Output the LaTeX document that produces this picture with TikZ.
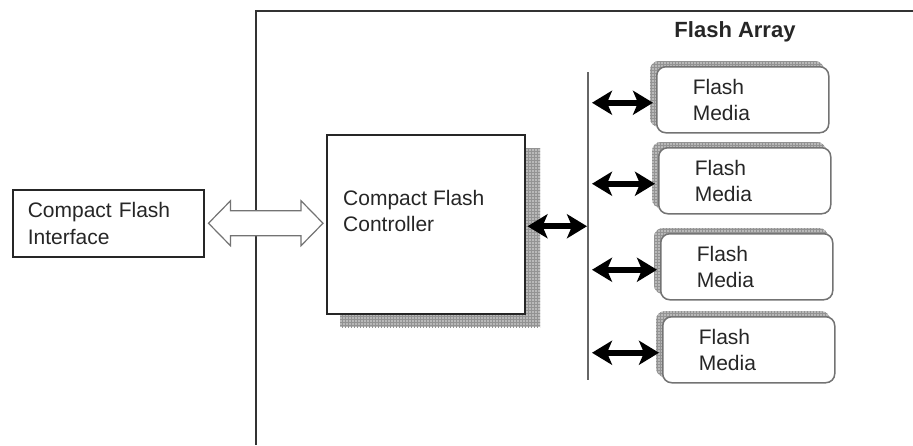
\documentclass[tikz,border=0pt]{standalone}
\usepackage{fontspec}
\setmainfont{Liberation Sans}
\usetikzlibrary{arrows.meta,calc,patterns}
\begin{document}
\begin{tikzpicture}[x=1pt,y=-1pt,
  txt/.style={font=\fontsize{21}{26.5}\selectfont, text=black!85},
  box/.style={draw=black!85, line width=1.5pt, fill=white},
  mediabox/.style={draw=black!55, line width=1.5pt, fill=white, rounded corners=9pt,
    minimum height=66pt, text width=100pt, inner xsep=36pt, inner ysep=0pt, align=left,
    anchor=north west, txt},
  shadowfill/.style={fill=gray!55},
  shadowpat/.style={pattern=grid, pattern color=gray!85},
  bigarrow/.style={line width=6pt, {Stealth[length=20pt,width=24pt,inset=5pt]}-{Stealth[length=20pt,width=24pt,inset=5pt]}},
  hollow/.style={draw=black!55, line width=1.2pt, fill=white, line join=miter}
]
\useasboundingbox (0,0) rectangle (913,445);
% outer frame
\coordinate (frtr) at (913,11);
\coordinate (frtl) at (256,11);
\coordinate (frbl) at (256,445);
\draw[black!80, line width=1.5pt] (frtr) -- (frtl) -- (frbl);

% interface
\node[box, txt, anchor=north west, minimum width=191pt, minimum height=67pt,
      text width=161pt, inner xsep=15pt, inner ysep=0pt, align=left] (iface) at (12,189)
      {Compact Flash\\Interface};

% controller with shadow
\path[shadowfill] (340,148) rectangle (540,327);
\path[shadowpat] (340,148) rectangle (540,327);
\node[box, anchor=north west, minimum width=198pt, minimum height=179pt, inner sep=0pt] (ctrl) at (326,134) {};
\node[txt, anchor=west, align=left, inner sep=0pt] (ctrltxt) at (343,211) {Compact Flash\\Controller};

% hollow double arrow
\coordinate (hl) at ($(iface.east)+(4,0)$);
\coordinate (hr) at ($(hl -| ctrl.west)+(-3,0)$);
\draw[hollow] (hl) -- ++(22,-22.5) -- ++(0,10) -- ($(hr)+(-22,-12.5)$) -- ++(0,-10) -- (hr)
  -- ++(-22,22.5) -- ++(0,-10) -- ($(hl)+(22,12.5)$) -- ++(0,10) -- cycle;

% title
\node[font=\bfseries\fontsize{22}{24}\selectfont, text=black!85] (title) at (735,32) {Flash Array};

% bus
\coordinate (bustop) at (588,72);
\coordinate (busbot) at (588,380);
\draw[black!60, line width=1.5pt] (bustop) -- (busbot);

% media boxes
\foreach \n/\x/\y in {m1/656/66, m2/658/147, m3/660/233, m4/662/316}{
  \path[shadowfill, rounded corners=9pt] (\x-6,\y-5) rectangle (\x+168,\y+61);
  \path[shadowpat, rounded corners=9pt] (\x-6,\y-5) rectangle (\x+168,\y+61);
  \node[mediabox] (\n) at (\x,\y) {Flash\\Media};
}

% arrows
\draw[bigarrow] ($(ctrl.east)+(2,2)$) -- ($(ctrl.east -| bustop)+(-1,2)$);
\foreach \n in {m1,m2,m3,m4}{
  \draw[bigarrow] ($(\n.west -| bustop)+(4,3)$) -- ($(\n.west)+(-3,3)$);
}
\end{tikzpicture}
\end{document}
